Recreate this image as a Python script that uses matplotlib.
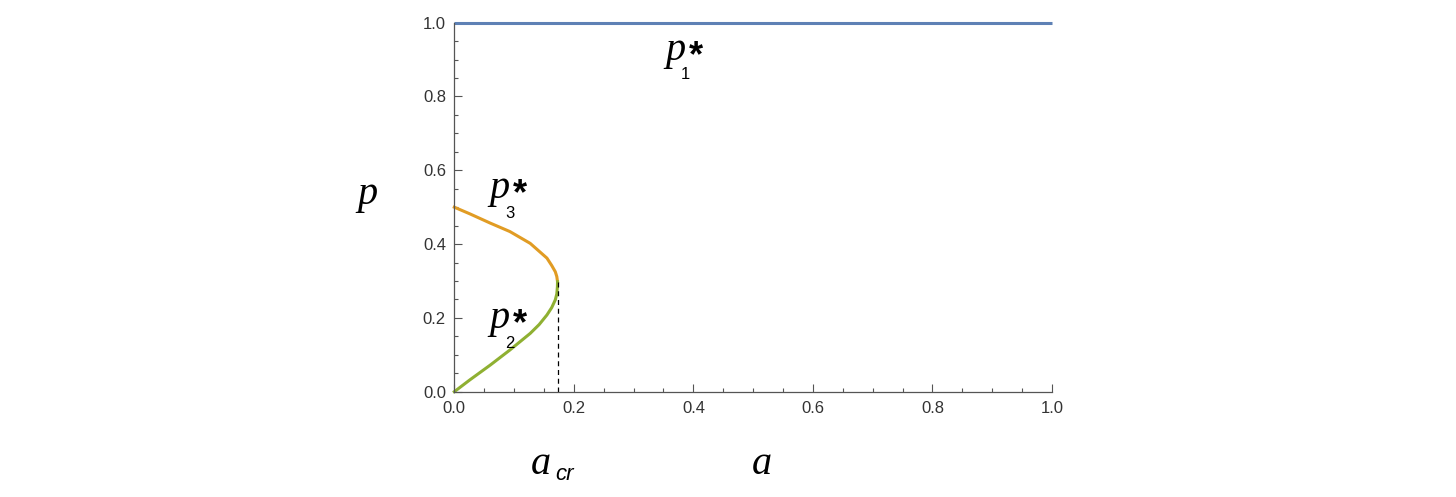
import matplotlib
matplotlib.use("Agg")
import matplotlib.pyplot as plt
from matplotlib.ticker import MultipleLocator

# Data
a_p1 = [0.0, 1.0]
p1 = [1.0, 1.0]

a_p3 = [0.000, 0.026, 0.060, 0.093, 0.127, 0.155, 0.163, 0.169, 0.1715, 0.1727]
p3 = [0.500, 0.482, 0.457, 0.434, 0.402, 0.362, 0.342, 0.325, 0.312, 0.298]

a_p2 = [0.000, 0.026, 0.060, 0.093, 0.127, 0.142, 0.155, 0.163, 0.169, 0.1715, 0.1725, 0.1727]
p2 = [0.000, 0.032, 0.072, 0.113, 0.158, 0.182, 0.208, 0.228, 0.249, 0.265, 0.284, 0.298]

a_cr = 0.1727
p_cr = 0.298

x_ticks = [0.0, 0.2, 0.4, 0.6, 0.8, 1.0]
y_ticks = [0.0, 0.2, 0.4, 0.6, 0.8, 1.0]

W, H = 1456, 497
fig = plt.figure(figsize=(W/100, H/100), dpi=100)
ax = fig.add_axes([454.3/W, 1-391.7/H, (1052-454.3)/W, (391.7-22.7)/H])

ax.plot(a_p1, p1, color='#5E81B5', lw=2.2, clip_on=False, solid_capstyle='butt')
ax.plot(a_p3, p3, color='#E19C24', lw=2.2, clip_on=False, solid_joinstyle='round')
ax.plot(a_p2, p2, color='#8FB032', lw=2.2, clip_on=False, solid_joinstyle='round')
ax.plot([a_cr, a_cr], [0, p_cr], color='black', lw=0.9, ls=(0, (4, 3)))

ax.set_xlim(0, 1)
ax.set_ylim(0, 1)
for s in ['top', 'right']:
    ax.spines[s].set_visible(False)
for s in ['left', 'bottom']:
    ax.spines[s].set_color('#555555')
    ax.spines[s].set_linewidth(0.9)

ax.set_xticks(x_ticks)
ax.set_yticks(y_ticks)
ax.set_xticklabels([f"{v:.1f}" for v in x_ticks])
ax.set_yticklabels([f"{v:.1f}" for v in y_ticks])
ax.xaxis.set_minor_locator(MultipleLocator(0.05))
ax.yaxis.set_minor_locator(MultipleLocator(0.05))
ax.tick_params(which='major', direction='in', length=6, width=0.8, color='#555555',
               labelsize=12, labelcolor='#333333')
ax.tick_params(axis='x', which='major', pad=7)
ax.tick_params(axis='y', which='major', pad=6)
ax.tick_params(which='minor', direction='in', length=3, width=0.8, color='#555555')
for lab in ax.get_xticklabels() + ax.get_yticklabels():
    lab.set_family('Liberation Sans')

def t(x, y, s, size, family='Liberation Serif', style='italic', weight='normal', va='baseline'):
    fig.text(x/W, 1-y/H, s, fontsize=size, family=family, style=style,
             weight=weight, ha='left', va=va)

def pstar(x, y, sub, subdy=20, stary=-21):
    t(x, y, 'p', 29)
    t(x + 16, y + subdy, sub, 12, family='Liberation Sans', style='normal')
    t(x + 24, y + stary, '*', 26, family='Liberation Sans', style='normal',
      weight='bold', va='top')

t(357, 204, 'p', 29)
pstar(665, 60, '1', subdy=19, stary=-21)
pstar(489, 198, '3')
pstar(489, 328, '2')
t(531, 474, 'a', 29)
t(555, 480, 'cr', 16, family='Liberation Sans', style='italic')
t(752, 474, 'a', 29)

fig.savefig('out.png', dpi=100)
